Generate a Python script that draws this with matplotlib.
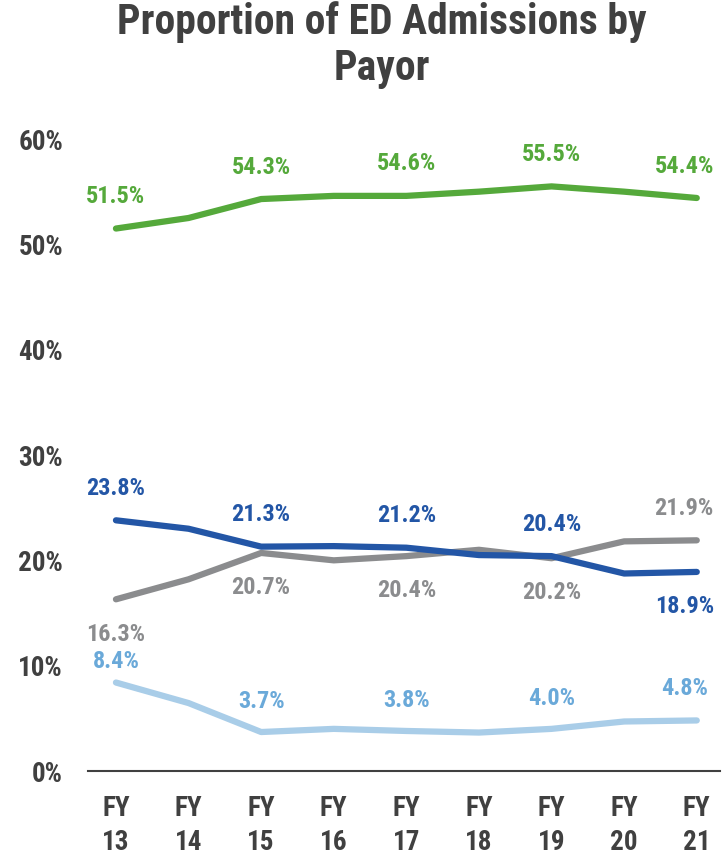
import matplotlib
matplotlib.use("Agg")
import matplotlib.pyplot as plt
from matplotlib import font_manager

years = ["FY\n13", "FY\n14", "FY\n15", "FY\n16", "FY\n17", "FY\n18", "FY\n19", "FY\n20", "FY\n21"]
green_vals = [51.5, 52.5, 54.3, 54.6, 54.6, 55.0, 55.5, 55.0, 54.4]
blue_vals = [23.8, 23.0, 21.3, 21.35, 21.2, 20.5, 20.4, 18.75, 18.9]
gray_vals = [16.3, 18.2, 20.7, 20.0, 20.4, 21.0, 20.2, 21.8, 21.9]
light_vals = [8.4, 6.45, 3.7, 4.0, 3.8, 3.65, 4.0, 4.7, 4.8]
yticks = [0, 10, 20, 30, 40, 50, 60]
title = "Proportion of ED Admissions by\nPayor"

avail = {f.name for f in font_manager.fontManager.ttflist}
fam = [f for f in ["Liberation Sans Narrow", "Roboto Condensed", "Open Sans", "DejaVu Sans"] if f in avail]
plt.rcParams['font.family'] = fam

fig = plt.figure(figsize=(7.23, 8.58), dpi=100)
ax = fig.add_axes([88/723, 87/858, (720-88)/723, (771-139)/858])

x = list(range(len(years)))
series = [
    (green_vals, "#55a93b", "#55a93b", [(0, 23), (2, 23), (4, 23), (6, 23), (8, 23)]),
    (gray_vals, "#8b8c8e", "#8b8c8e", [(0, -25), (2, -25), (4, -25), (6, -25), (8, 23)]),
    (blue_vals, "#2356a6", "#2356a6", [(0, 23), (2, 23), (4, 23), (6, 23), (8, -25)]),
    (light_vals, "#a9cde8", "#6aa9d9", [(0, 15), (2, 22), (4, 22), (6, 22), (8, 23)]),
]
for vals, col, lcol, labs in series:
    ax.plot(x, vals, color=col, lw=4.5, solid_capstyle='round', solid_joinstyle='round')
    for i, d in labs:
        dx = -9 if i == len(x) - 1 else 0
        ax.annotate(f"{vals[i]:.1f}%", (x[i], vals[i]), xytext=(dx, d),
                    textcoords='offset points', ha='center', va='center',
                    fontsize=17.5, fontweight='bold', color=lcol)

ax.set_xlim(-0.385, 8.32)
ax.set_ylim(0, 60)
ax.set_yticks(yticks)
ax.set_yticklabels([f"{v}%" for v in yticks])
ax.set_xticks(x)
ax.set_xticklabels(years, linespacing=1.35)
for s in ["top", "right", "left"]:
    ax.spines[s].set_visible(False)
ax.spines["bottom"].set_color("#404040")
ax.spines["bottom"].set_linewidth(1.5)
ax.tick_params(axis='both', length=0, labelsize=19.5, colors="#404040")
ax.tick_params(axis='y', pad=18)
ax.tick_params(axis='x', pad=17)
for t in ax.get_xticklabels() + ax.get_yticklabels():
    t.set_fontweight('bold')

fig.text(382/723, 1 - 45/858, title, ha='center', va='center', fontsize=30,
         fontweight='bold', color="#404040", linespacing=1.15)

fig.savefig("out.png", dpi=100)
